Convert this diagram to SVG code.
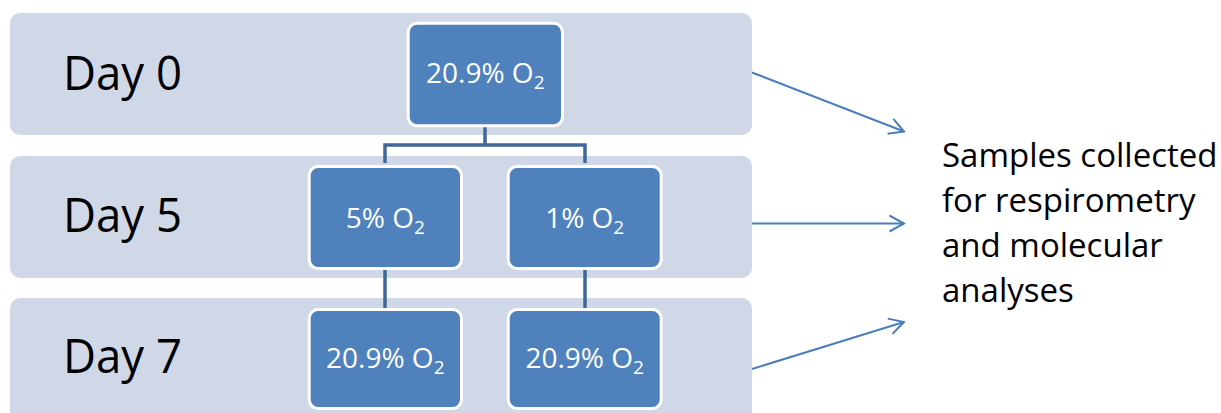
<svg xmlns="http://www.w3.org/2000/svg" width="1221" height="413" viewBox="0 0 1221 413">
<defs>
<style>
.band{fill:#D0D8E8}
.box{fill:#4F81BD;stroke:#FFFFFF;stroke-width:3}
.day{font-family:"Open Sans","Liberation Sans",sans-serif;font-size:47px;fill:#000000}
.bt{font-family:"Open Sans","Liberation Sans",sans-serif;font-size:28px;fill:#FFFFFF;text-anchor:middle}
.sub{font-size:19px}
.tree{fill:none;stroke:#3F6899;stroke-width:3.5}
.arr{fill:none;stroke:#4A7EBB;stroke-width:2}
.note{font-family:"Open Sans","Liberation Sans",sans-serif;font-size:33px;fill:#000000}
</style>
<marker id="ah" viewBox="0 0 17 19" refX="15.5" refY="9.5" markerWidth="17" markerHeight="19" markerUnits="userSpaceOnUse" orient="auto">
<path d="M1,1.5 L15.5,9.5 L1,17.5" fill="none" stroke="#4A7EBB" stroke-width="2"/>
</marker>
</defs>
<rect width="1221" height="413" fill="#FFFFFF"/>
<g id="bands">
<g id="band-day0"><rect class="band" x="10" y="13" width="742" height="122" rx="10"/><text class="day" x="63" y="90" textLength="119" lengthAdjust="spacingAndGlyphs">Day 0</text></g>
<g id="band-day5"><rect class="band" x="10" y="156" width="742" height="122" rx="10"/><text class="day" x="63" y="232" textLength="119" lengthAdjust="spacingAndGlyphs">Day 5</text></g>
<g id="band-day7"><rect class="band" x="10" y="298" width="742" height="122" rx="10"/><text class="day" x="63" y="373" textLength="119" lengthAdjust="spacingAndGlyphs">Day 7</text></g>
</g>
<g id="connectors">
<path class="tree" d="M485,127 V145 M385,163 V145 H585 V163"/>
<path class="tree" d="M385,270 V308 M585,270 V308"/>
<line class="arr" x1="752" y1="72.5" x2="904" y2="131.5" marker-end="url(#ah)"/>
<line class="arr" x1="752" y1="223.5" x2="904" y2="223.5" marker-end="url(#ah)"/>
<line class="arr" x1="752" y1="369" x2="904" y2="322" marker-end="url(#ah)"/>
</g>
<g id="node-d0"><rect class="box" x="408.2" y="23.2" width="154.3" height="102.6" rx="9"/><text class="bt" x="485.3" y="83.3">20.9% O<tspan class="sub" dy="6">2</tspan></text></g>
<g id="node-d5-5"><rect class="box" x="309.2" y="166.5" width="152.3" height="102" rx="9"/><text class="bt" x="385.3" y="228.3">5% O<tspan class="sub" dy="6">2</tspan></text></g>
<g id="node-d5-1"><rect class="box" x="508.2" y="166.5" width="153" height="102" rx="9"/><text class="bt" x="584.7" y="228.3">1% O<tspan class="sub" dy="6">2</tspan></text></g>
<g id="node-d7-a"><rect class="box" x="309.2" y="309.5" width="152.3" height="99" rx="9"/><text class="bt" x="385.3" y="368.3">20.9% O<tspan class="sub" dy="6">2</tspan></text></g>
<g id="node-d7-b"><rect class="box" x="508.2" y="309.5" width="153" height="99" rx="9"/><text class="bt" x="584.7" y="368.3">20.9% O<tspan class="sub" dy="6">2</tspan></text></g>
<g id="node-note">
<text class="note" x="942" y="167">Samples collected</text>
<text class="note" x="942" y="212">for respirometry</text>
<text class="note" x="942" y="257">and molecular</text>
<text class="note" x="942" y="302">analyses</text>
</g>
</svg>
